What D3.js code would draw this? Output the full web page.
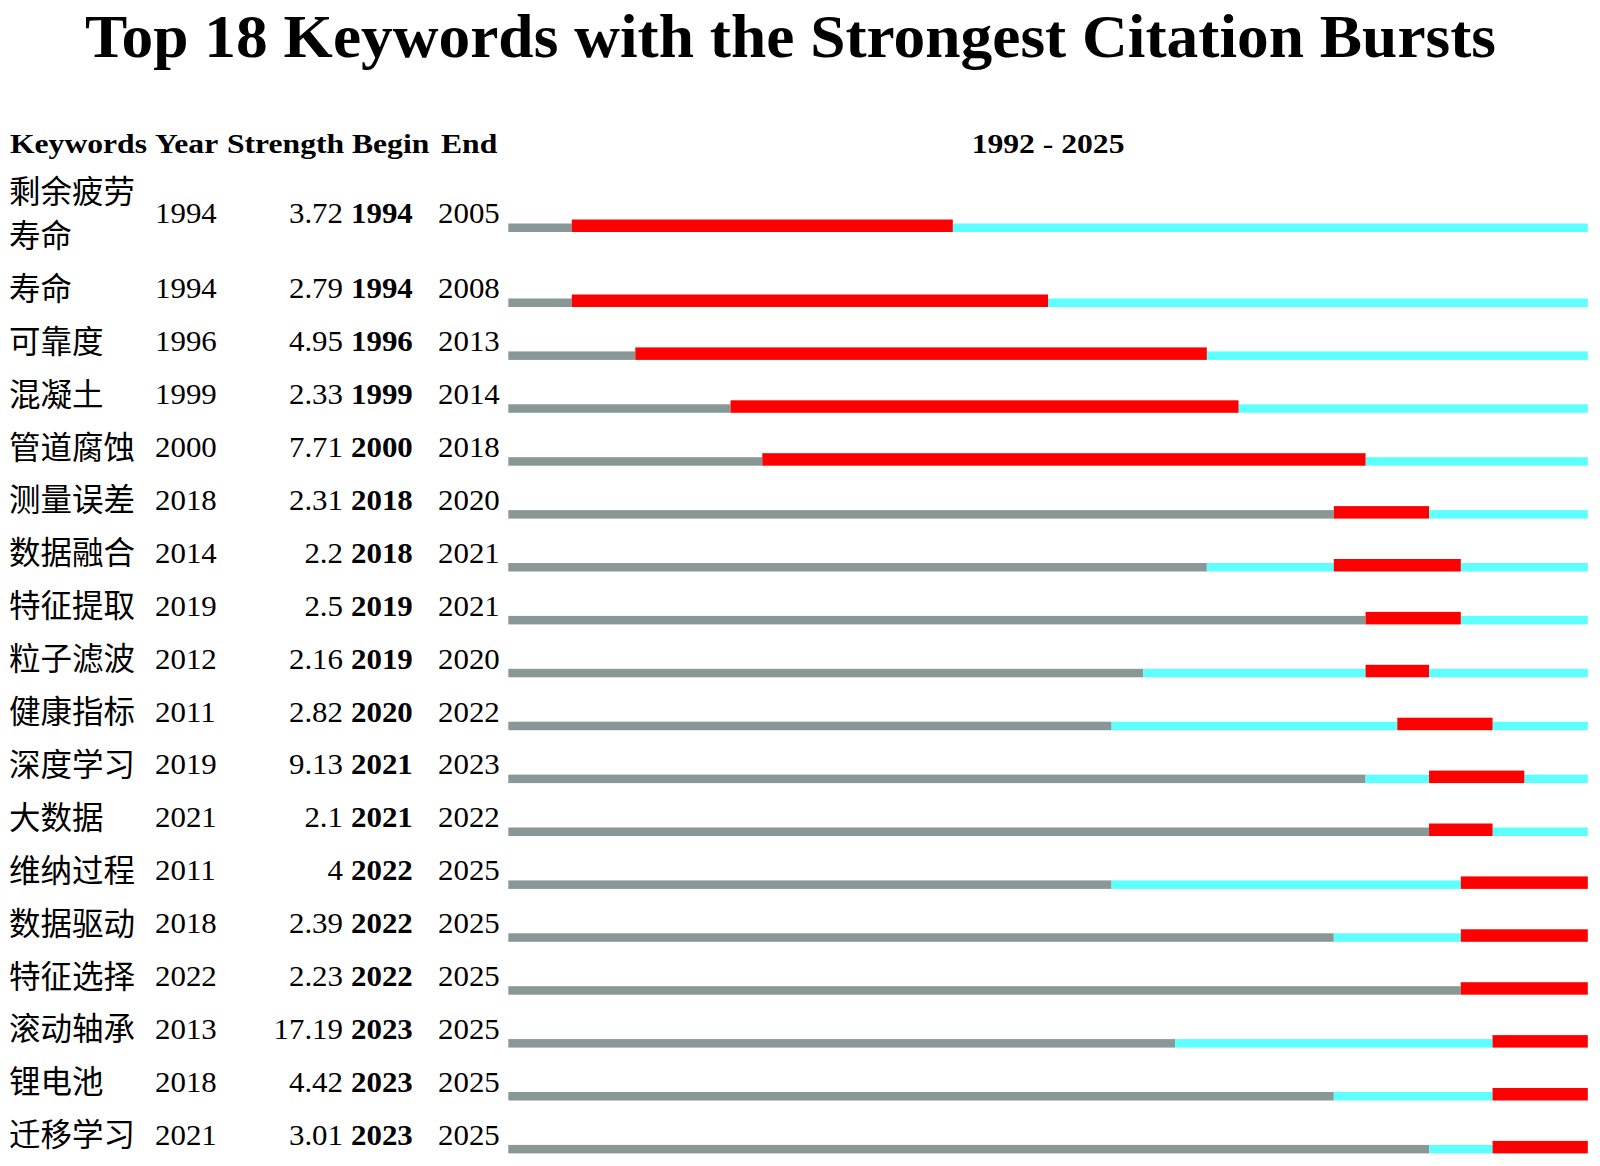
<!DOCTYPE html>
<html><head><meta charset="utf-8">
<script src="https://cdn.jsdelivr.net/npm/d3@7"></script>
<style>body{margin:0;background:#fff}</style>
</head><body>
<svg id="chart" width="1600" height="1166"></svg>
<script>
const title = "Top 18 Keywords with the Strongest Citation Bursts";
const headers = ["Keywords","Year","Strength","Begin","End"];
const keywords = ["剩余疲劳寿命","寿命","可靠度","混凝土","管道腐蚀","测量误差","数据融合","特征提取","粒子滤波","健康指标","深度学习","大数据","维纳过程","数据驱动","特征选择","滚动轴承","锂电池","迁移学习"];
const years = [1994,1994,1996,1999,2000,2018,2014,2019,2012,2011,2019,2021,2011,2018,2022,2013,2018,2021];
const strengths = [3.72,2.79,4.95,2.33,7.71,2.31,2.2,2.5,2.16,2.82,9.13,2.1,4,2.39,2.23,17.19,4.42,3.01];
const begins = [1994,1994,1996,1999,2000,2018,2018,2019,2019,2020,2021,2021,2022,2022,2022,2023,2023,2023];
const ends = [2005,2008,2013,2014,2018,2020,2021,2021,2020,2022,2023,2022,2025,2025,2025,2025,2025,2025];
const rangeStart = 1992, rangeEnd = 2025;

const svg = d3.select("#chart");
const SERIF = "'Liberation Serif','Times New Roman',serif";
const CJK = "'Noto Sans CJK SC','Noto Sans CJK JP',sans-serif";
const COLORS = {gray:"#8a9797", cyan:"#5effff", red:"#ff0000"};

// title
svg.append("text").attr("x",85).attr("y",57)
  .attr("font-family",SERIF).attr("font-weight","bold").attr("font-size",61)
  .attr("textLength",1411).attr("lengthAdjust","spacingAndGlyphs")
  .text(title);

// x scale (years)
const x = d3.scaleLinear().domain([rangeStart, rangeEnd+1]).range([508.3, 1587.8]);

// wrap keyword into lines of 4 chars
const wrap = s => { const out=[]; for(let i=0;i<s.length;i+=4) out.push(s.slice(i,i+4)); return out; };
const rows = keywords.map((k,i)=>({k, lines:wrap(k), year:years[i], strength:strengths[i], begin:begins[i], end:ends[i]}));

// vertical slot scale
const slot = d3.scaleLinear().domain([0,1]).range([201.2, 254.1]);
const EXTRA = 44.2/52.9;
let cum = 0;
rows.forEach(r=>{
  const ex = (r.lines.length-1)*EXTRA;
  r.base = slot(cum + ex/2);
  cum += 1 + ex;
});

// header
const headerY = 153.3;
const headerX = [10,155,227,352,441];
const HSX = 1.15, DSX = 1.03;
const tx = (xx,yy,s)=>`translate(${xx},${yy}) scale(${s},1)`;
headers.forEach((h,i)=>{
  svg.append("text").attr("transform",tx(headerX[i],headerY,HSX))
    .attr("font-family",SERIF).attr("font-weight","bold").attr("font-size",27.5).text(h);
});
svg.append("text").attr("transform",tx((x.range()[0]+x.range()[1])/2,headerY,HSX))
  .attr("text-anchor","middle")
  .attr("font-family",SERIF).attr("font-weight","bold").attr("font-size",27.5)
  .text(`${rangeStart} - ${rangeEnd}`);

const g = svg.selectAll("g.row").data(rows).join("g").attr("class","row");

// keyword labels
const LINE = 44;
g.each(function(r){
  const sel = d3.select(this);
  const n = r.lines.length;
  r.lines.forEach((ln,j)=>{
    sel.append("text").attr("x",9).attr("y",r.base + (j-(n-1)/2)*LINE + 1.5)
      .attr("font-family",CJK).attr("font-size",31.5).text(ln);
  });
});
const DF = 30;
g.append("text").attr("transform",r=>tx(155,r.base,DSX))
  .attr("font-family",SERIF).attr("font-size",DF).text(r=>r.year);
g.append("text").attr("transform",r=>tx(343,r.base,DSX)).attr("text-anchor","end")
  .attr("font-family",SERIF).attr("font-size",DF).text(r=>String(r.strength));
g.append("text").attr("transform",r=>tx(351,r.base,DSX))
  .attr("font-family",SERIF).attr("font-weight","bold").attr("font-size",DF).text(r=>r.begin);
g.append("text").attr("transform",r=>tx(438,r.base,DSX))
  .attr("font-family",SERIF).attr("font-size",DF).text(r=>r.end);

// bars
const THIN = 8.5, THICK = 12.5, DROP = 8.7;
g.each(function(r){
  const sel = d3.select(this);
  const bottom = r.base + DROP;
  const segs = [
    {a:rangeStart, b:r.year, c:"gray", h:THIN},
    {a:r.year, b:r.begin, c:"cyan", h:THIN},
    {a:r.end+1, b:rangeEnd+1, c:"cyan", h:THIN},
    {a:r.begin, b:r.end+1, c:"red", h:THICK}
  ].filter(s=>s.b>s.a);
  sel.selectAll("rect").data(segs).join("rect")
    .attr("x",s=>x(s.a)).attr("width",s=>x(s.b)-x(s.a))
    .attr("y",s=>bottom-s.h).attr("height",s=>s.h)
    .attr("fill",s=>COLORS[s.c]);
});
</script>
</body></html>
